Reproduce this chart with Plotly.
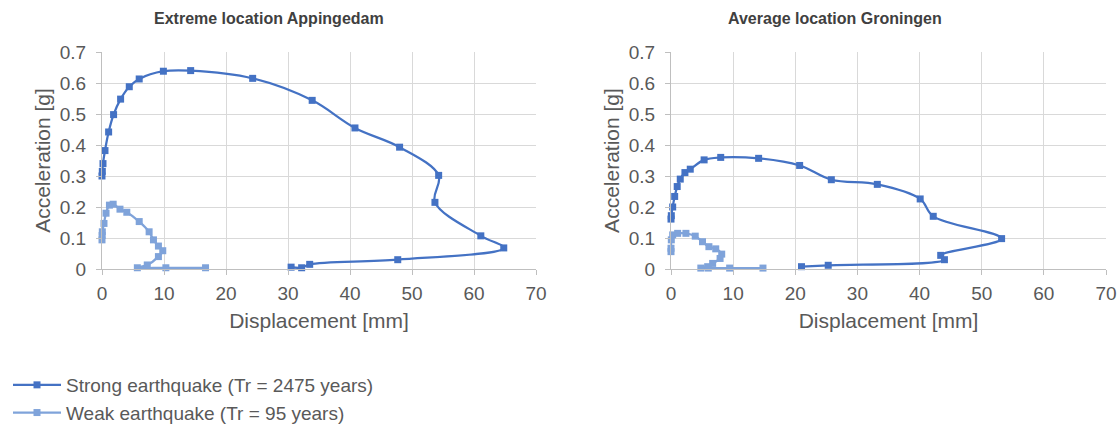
import plotly.graph_objects as go

# ---- data ----
strong_A_x = [0, 0.05, 0.16, 0.48, 1.07, 1.87, 3.0, 4.4, 6.0, 9.9, 14.3, 24.3, 33.9, 40.8, 48.0, 54.3, 53.7, 61.1, 64.8, 47.7, 33.5, 32.2, 30.5]
strong_A_y = [0.30, 0.315, 0.34, 0.382, 0.442, 0.498, 0.548, 0.588, 0.613, 0.638, 0.640, 0.615, 0.544, 0.455, 0.393, 0.302, 0.215, 0.107, 0.068, 0.030, 0.015, 0.004, 0.006]

weak_A_x = [0, 0.02, 0.05, 0.32, 0.65, 1.2, 1.8, 2.9, 4.0, 6.0, 7.6, 8.3, 9.1, 9.8, 9.1, 7.3, 5.7, 10.3, 16.7]
weak_A_y = [0.094, 0.108, 0.12, 0.147, 0.18, 0.206, 0.209, 0.193, 0.183, 0.153, 0.12, 0.094, 0.074, 0.059, 0.04, 0.013, 0.004, 0.004, 0.004]

strong_B_x = [0, 0.05, 0.27, 0.59, 1.0, 1.49, 2.24, 3.1, 5.33, 8.0, 14.1, 20.7, 25.8, 33.2, 40.1, 42.2, 53.2, 43.4, 44.0, 25.3, 21.0]
strong_B_y = [0.161, 0.172, 0.2, 0.234, 0.266, 0.29, 0.311, 0.322, 0.352, 0.36, 0.357, 0.334, 0.288, 0.273, 0.226, 0.170, 0.098, 0.044, 0.030, 0.012, 0.0075]

weak_B_x = [0, 0, 0.05, 0.27, 1.07, 2.4, 3.9, 5.07, 6.1, 7.2, 8.16, 7.9, 6.7, 5.9, 4.8, 6.0, 9.44, 14.8]
weak_B_y = [0.056, 0.067, 0.094, 0.11, 0.115, 0.115, 0.106, 0.088, 0.072, 0.065, 0.048, 0.034, 0.018, 0.0075, 0.003, 0.003, 0.003, 0.003]

titles = ["Extreme location Appingedam", "Average location Groningen"]
series_names = ["Strong earthquake (Tr = 2475 years)", "Weak earthquake (Tr = 95 years)"]
x_title = "Displacement [mm]"
y_title = "Acceleration [g]"
x_ticks = [0, 10, 20, 30, 40, 50, 60, 70]
y_ticks = [0, 0.1, 0.2, 0.3, 0.4, 0.5, 0.6, 0.7]
y_ticktext = ["0", "0.1", "0.2", "0.3", "0.4", "0.5", "0.6", "0.7"]

STRONG = "#4472C4"
WEAK = "#7FA3DA"
FONT = "Liberation Sans, Arial, sans-serif"
W, H = 1118, 425

fig = go.Figure()

def add(xs, ys, name, color, xa, ya, show):
    fig.add_trace(go.Scatter(
        x=xs, y=ys, name=name, mode="lines+markers",
        line=dict(color=color, width=2.25, shape="spline", smoothing=1),
        marker=dict(symbol="square", size=7, color=color),
        xaxis=xa, yaxis=ya, showlegend=show, cliponaxis=False,
    ))

add(strong_A_x, strong_A_y, series_names[0], STRONG, "x", "y", True)
add(weak_A_x, weak_A_y, series_names[1], WEAK, "x", "y", True)
add(strong_B_x, strong_B_y, series_names[0], STRONG, "x2", "y2", False)
add(weak_B_x, weak_B_y, series_names[1], WEAK, "x2", "y2", False)

ydom = [1 - 269 / H, 1 - 52 / H]
xdomA = [102 / W, 536 / W]
xdomB = [671 / W, 1106 / W]

def xaxis(dom, anchor):
    return dict(domain=dom, anchor=anchor, range=[0, 70], tickvals=x_ticks,
                automargin=False,
                showgrid=True, gridcolor="#D9D9D9", gridwidth=1,
                showline=True, linecolor="#BFBFBF", linewidth=1,
                ticks="outside", ticklen=5, tickcolor="#BFBFBF",
                zeroline=False, ticklabelstandoff=2,
                tickfont=dict(family=FONT, size=19, color="#595959"),
                title=dict(text=x_title, standoff=10,
                           font=dict(family=FONT, size=21, color="#595959")))

def yaxis(dom, anchor):
    return dict(domain=dom, anchor=anchor, range=[0, 0.7], tickvals=y_ticks,
                ticktext=y_ticktext, automargin=False,
                showgrid=True, gridcolor="#D9D9D9", gridwidth=1,
                showline=True, linecolor="#BFBFBF", linewidth=1,
                ticks="outside", ticklen=5, tickcolor="#BFBFBF",
                zeroline=False, ticklabelstandoff=6,
                tickfont=dict(family=FONT, size=19, color="#595959"),
                title=dict(text=y_title, standoff=3,
                           font=dict(family=FONT, size=21, color="#595959")))

fig.update_layout(
    width=W, height=H, autosize=False,
    margin=dict(l=0, r=0, t=0, b=0, autoexpand=False),
    paper_bgcolor="white", plot_bgcolor="white",
    font=dict(family=FONT, color="#595959"),
    xaxis=xaxis(xdomA, "y"), yaxis=yaxis(ydom, "x"),
    xaxis2=xaxis(xdomB, "y2"), yaxis2=yaxis(ydom, "x2"),
    legend=dict(x=8 / W, y=1 - 366 / H, xanchor="left", yanchor="top",
                orientation="v", itemwidth=48, tracegroupgap=0,
                font=dict(family=FONT, size=19, color="#595959"),
                bgcolor="rgba(0,0,0,0)"),
    annotations=[
        dict(text="<b>" + titles[0] + "</b>", x=269 / W, y=1 - 19 / H, xref="paper", yref="paper",
             showarrow=False, xanchor="center", yanchor="middle",
             font=dict(family=FONT, size=16, color="#404040")),
        dict(text="<b>" + titles[1] + "</b>", x=835 / W, y=1 - 19 / H, xref="paper", yref="paper",
             showarrow=False, xanchor="center", yanchor="middle",
             font=dict(family=FONT, size=16, color="#404040")),
    ],
)

fig.write_html("out.html", config={"displayModeBar": False},
               post_script="document.body.style.margin='0';")
